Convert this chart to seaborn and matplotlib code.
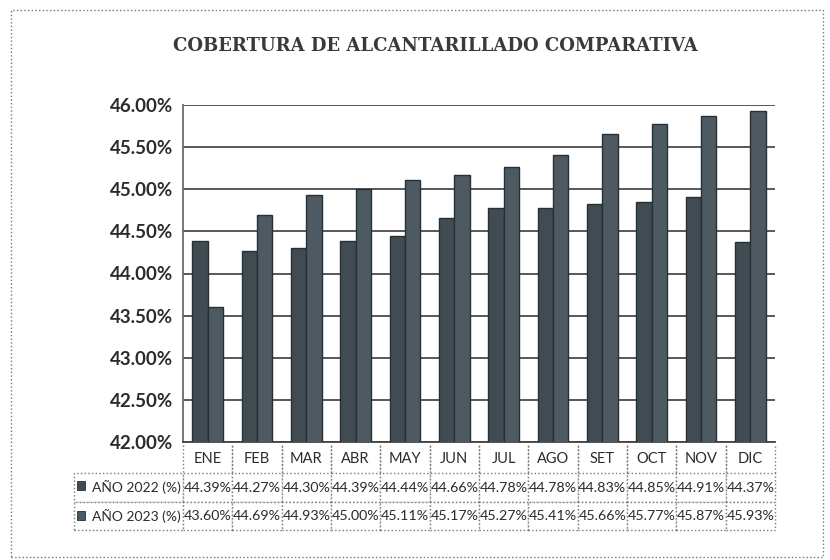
import numpy as np
import pandas as pd
import matplotlib
matplotlib.use("Agg")
import matplotlib.pyplot as plt
import seaborn as sns
from matplotlib.patches import Rectangle

meses = ["ENE", "FEB", "MAR", "ABR", "MAY", "JUN", "JUL", "AGO", "SET", "OCT", "NOV", "DIC"]
anio_2022 = [44.39, 44.27, 44.30, 44.39, 44.44, 44.66, 44.78, 44.78, 44.83, 44.85, 44.91, 44.37]
anio_2023 = [43.60, 44.69, 44.93, 45.00, 45.11, 45.17, 45.27, 45.41, 45.66, 45.77, 45.87, 45.93]
series = ["AÑO 2022 (%)", "AÑO 2023 (%)"]
y_ticks = [42.0, 42.5, 43.0, 43.5, 44.0, 44.5, 45.0, 45.5, 46.0]

color_2022 = "#3d4c55"
color_2023 = "#4b5b64"
texto = "#2b2b2b"

df = pd.DataFrame({
    "mes": meses * 2,
    "valor": anio_2022 + anio_2023,
    "serie": [series[0]] * len(meses) + [series[1]] * len(meses),
})

sns.set_theme(style="white")
plt.rcParams["font.family"] = ["Lato", "DejaVu Sans"]

fig = plt.figure(figsize=(8.3, 5.6), dpi=100)
fig.patch.set_facecolor("white")
ax = fig.add_axes([183 / 830, 118 / 560, 592 / 830, 337 / 560])

sns.barplot(data=df, x="mes", y="valor", hue="serie", order=meses, hue_order=series,
            palette=[color_2022, color_2023], width=0.62,
            edgecolor="#263036", linewidth=1.0, legend=False, ax=ax, zorder=3)

ax.set_ylim(42, 46)
ax.set_yticks(y_ticks)
ax.set_yticklabels([f"{v:.2f}%" for v in y_ticks], fontsize=13.5, fontweight="bold", color=texto)
ax.tick_params(axis="y", length=0, pad=7)
ax.set_xticks([])
ax.set_xlabel("")
ax.set_ylabel("")
ax.grid(axis="y", color="#4a4a4a", linewidth=1.3, zorder=0)
for lado in ["top", "right"]:
    ax.spines[lado].set_visible(False)
ax.spines["left"].set_color("#666666")
ax.spines["bottom"].set_color("#444444")
ax.spines["bottom"].set_linewidth(1.3)

# Tabla de datos debajo del grafico
filas = [[series[0]] + [f"{v:.2f}%" for v in anio_2022],
         [series[1]] + [f"{v:.2f}%" for v in anio_2023]]
ancho_lab = 109 / 592
ancho_col = (1.0 / 12)
total = ancho_lab + 1.0
tbl = ax.table(cellText=filas, colLabels=[""] + meses, cellLoc="center",
               colWidths=[ancho_lab / total] + [ancho_col / total] * 12,
               bbox=[-ancho_lab, -88 / 337, total, 85 / 337])
tbl.auto_set_font_size(False)
for (r, c), cell in tbl.get_celld().items():
    cell.set_edgecolor("#7a7a7a")
    cell.set_linestyle(":")
    cell.set_linewidth(1.0)
    cell.get_text().set_color(texto)
    cell.get_text().set_fontsize(10.3)
    if r == 0 and c == 0:
        cell.visible_edges = "open"
    elif r == 0:
        cell.visible_edges = "LR"
        cell.get_text().set_fontsize(10.5)
    if c == 0 and r > 0:
        cell.get_text().set_horizontalalignment("right")
        cell.PAD = 0.02
        cell.get_text().set_fontsize(10)

# cuadritos de leyenda en la tabla
for i, col in enumerate([color_2022, color_2023]):
    y_c = (442 - (485 + i * 30)) / 337
    ax.add_patch(Rectangle((-106 / 592, y_c - 4.5 / 337), 8 / 592, 9 / 337,
                           transform=ax.transAxes, clip_on=False,
                           facecolor=col, edgecolor="#263036", linewidth=0.6))

fig.text(435 / 830, 1 - 46 / 560, "COBERTURA DE ALCANTARILLADO COMPARATIVA",
         ha="center", va="center", fontsize=13, fontweight="bold",
         family="DejaVu Serif", color="#3a3a3a")

# marco punteado del grafico
fig.patches.append(Rectangle((11 / 830, 3 / 560), 812 / 830, 547 / 560,
                             transform=fig.transFigure, fill=False,
                             edgecolor="#777777", linestyle=":", linewidth=1.0))

fig.savefig("out.png", dpi=100)
